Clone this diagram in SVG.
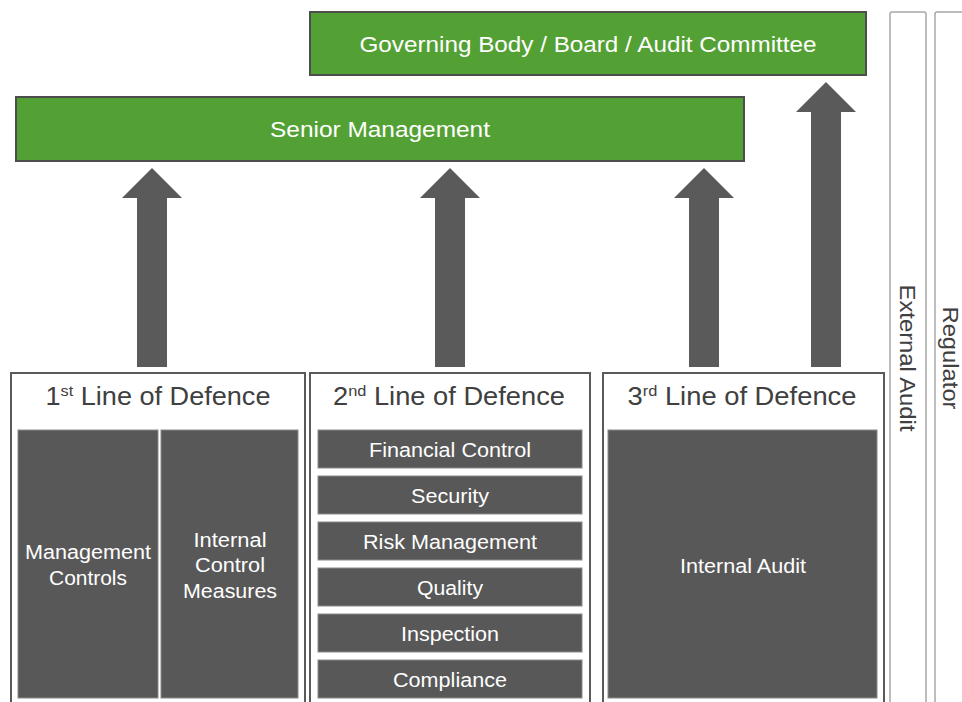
<svg xmlns="http://www.w3.org/2000/svg" width="962" height="702" viewBox="0 0 962 702">
<style>
text{font-family:"Liberation Sans",Arial,sans-serif}
.green{fill:#53a134;stroke:#4d4d4d;stroke-width:2}
.gt{fill:#fff;font-size:22px;text-anchor:middle}
.line{fill:#fff;stroke:#5a5a5a;stroke-width:2}
.title{fill:#404040;font-size:25px;text-anchor:middle}
.dark{fill:#585858;stroke:#8a8a8a;stroke-width:1}
.dt{fill:#fff;font-size:20px;text-anchor:middle}
.col{fill:#fff;stroke:#a8a8a8;stroke-width:1.5}
.ct{fill:#404040;font-size:22px;text-anchor:middle}
.arrow{fill:#5a5a5a}
</style>
<g id="external-audit">
<rect class="col" x="890" y="12" width="36" height="700" rx="2"/>
<text class="ct" transform="translate(900,358) rotate(90)" textLength="147" lengthAdjust="spacingAndGlyphs">External Audit</text>
</g>
<g id="regulator">
<rect class="col" x="935" y="12" width="40" height="700" rx="2"/>
<text class="ct" transform="translate(943,358) rotate(90)" textLength="103" lengthAdjust="spacingAndGlyphs">Regulator</text>
</g>
<g id="governing-body">
<rect class="green" x="310" y="12" width="556" height="63"/>
<text class="gt" x="588" y="52" textLength="457" lengthAdjust="spacingAndGlyphs">Governing Body / Board / Audit Committee</text>
</g>
<g id="senior-management">
<rect class="green" x="16" y="97" width="728" height="64"/>
<text class="gt" x="380" y="137" textLength="220" lengthAdjust="spacingAndGlyphs">Senior Management</text>
</g>
<g id="connectors">
<polygon class="arrow" points="137,367 137,198 122,198 152,168 182,198 167,198 167,367"/>
<polygon class="arrow" points="435,367 435,198 420,198 450,168 480,198 465,198 465,367"/>
<polygon class="arrow" points="689,367 689,198 674,198 704,168 734,198 719,198 719,367"/>
<polygon class="arrow" points="811,367 811,112 796,112 826,82 856,112 841,112 841,367"/>
</g>
<g id="first-line">
<rect class="line" x="11" y="373" width="294" height="335"/>
<text class="title" x="158" y="405" textLength="225" lengthAdjust="spacingAndGlyphs">1<tspan font-size="15" dy="-9">st</tspan><tspan dy="9"> Line of Defence</tspan></text>
<g id="management-controls">
<rect class="dark" x="18" y="430" width="140" height="268"/>
<text class="dt" x="88" y="559" textLength="126" lengthAdjust="spacingAndGlyphs">Management</text>
<text class="dt" x="88" y="585" textLength="78" lengthAdjust="spacingAndGlyphs">Controls</text>
</g>
<g id="internal-control-measures">
<rect class="dark" x="161" y="430" width="137" height="268"/>
<text class="dt" x="230" y="547" textLength="73" lengthAdjust="spacingAndGlyphs">Internal</text>
<text class="dt" x="230" y="572" textLength="70" lengthAdjust="spacingAndGlyphs">Control</text>
<text class="dt" x="230" y="598" textLength="94" lengthAdjust="spacingAndGlyphs">Measures</text>
</g>
</g>
<g id="second-line">
<rect class="line" x="310" y="373" width="280" height="335"/>
<text class="title" x="449" y="405" textLength="232" lengthAdjust="spacingAndGlyphs">2<tspan font-size="15" dy="-9">nd</tspan><tspan dy="9"> Line of Defence</tspan></text>
<g id="financial-control"><rect class="dark" x="318" y="430" width="264" height="38"/><text class="dt" x="450" y="457" textLength="162" lengthAdjust="spacingAndGlyphs">Financial Control</text></g>
<g id="security"><rect class="dark" x="318" y="476" width="264" height="38"/><text class="dt" x="450" y="503" textLength="78" lengthAdjust="spacingAndGlyphs">Security</text></g>
<g id="risk-management"><rect class="dark" x="318" y="522" width="264" height="38"/><text class="dt" x="450" y="549" textLength="174" lengthAdjust="spacingAndGlyphs">Risk Management</text></g>
<g id="quality"><rect class="dark" x="318" y="568" width="264" height="38"/><text class="dt" x="450" y="595" textLength="66" lengthAdjust="spacingAndGlyphs">Quality</text></g>
<g id="inspection"><rect class="dark" x="318" y="614" width="264" height="38"/><text class="dt" x="450" y="641" textLength="98" lengthAdjust="spacingAndGlyphs">Inspection</text></g>
<g id="compliance"><rect class="dark" x="318" y="660" width="264" height="38"/><text class="dt" x="450" y="687" textLength="114" lengthAdjust="spacingAndGlyphs">Compliance</text></g>
</g>
<g id="third-line">
<rect class="line" x="603" y="373" width="281" height="335"/>
<text class="title" x="742" y="405" textLength="229" lengthAdjust="spacingAndGlyphs">3<tspan font-size="15" dy="-9">rd</tspan><tspan dy="9"> Line of Defence</tspan></text>
<g id="internal-audit">
<rect class="dark" x="608" y="430" width="269" height="268"/>
<text class="dt" x="743" y="573" textLength="126" lengthAdjust="spacingAndGlyphs">Internal Audit</text>
</g>
</g>
</svg>
